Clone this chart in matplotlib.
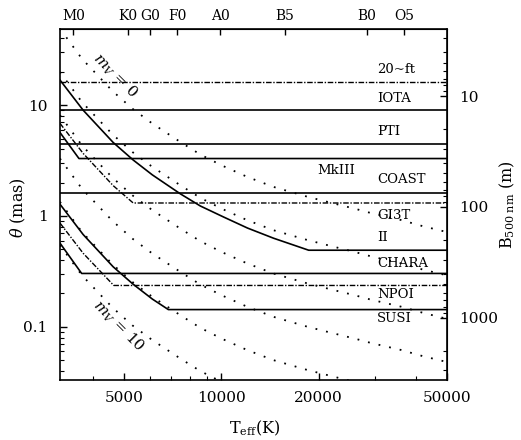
import matplotlib
matplotlib.use('Agg')
import matplotlib.pyplot as plt
from matplotlib.ticker import FixedLocator, NullFormatter, NullLocator, LogLocator

plt.rcParams['font.family'] = ['DejaVu Serif']
plt.rcParams['mathtext.fontset'] = 'dejavuserif'

# ---- data ----
teff = [3160, 3700, 4600, 5300, 6100, 7500, 8600, 10000, 12000, 14500,
        18500, 22000, 26000, 29000, 36000, 42000, 50000]
theta_mv0 = [49.1, 26.2, 13.4, 9.3, 6.85, 4.61, 3.59, 2.87, 2.26, 1.83,
             1.49, 1.31, 1.16, 1.065, 0.92, 0.81, 0.716]
theta_mv2 = [19.96, 10.65, 5.45, 3.78, 2.785, 1.874, 1.46, 1.167, 0.919, 0.744,
             0.606, 0.533, 0.472, 0.433, 0.374, 0.329, 0.291]
theta_mv4 = [8.12, 4.33, 2.215, 1.537, 1.132, 0.762, 0.593, 0.474, 0.374, 0.3025,
             0.246, 0.2165, 0.192, 0.176, 0.152, 0.134, 0.118]
theta_mv6 = [3.30, 1.761, 0.901, 0.625, 0.460, 0.310, 0.241, 0.193, 0.152, 0.123,
             0.100, 0.088, 0.078, 0.0716, 0.0618, 0.0544, 0.0481]
theta_mv8 = [1.342, 0.716, 0.366, 0.254, 0.187, 0.126, 0.098, 0.0784, 0.0618, 0.050,
             0.0407, 0.0358, 0.0317, 0.0291, 0.0251, 0.0221, 0.0196]
theta_mv10 = [0.546, 0.291, 0.149, 0.103, 0.0761, 0.0512, 0.0399, 0.0319, 0.0251, 0.0203,
              0.0166, 0.0146, 0.0129, 0.0118, 0.0102, 0.0090, 0.0080]
mag_curves = [theta_mv0, theta_mv2, theta_mv4, theta_mv6, theta_mv8, theta_mv10]

# instruments: resolution limit (mas) and sensitivity-limit curve (Teff, theta)
inst_names = ['20~ft', 'IOTA', 'PTI', 'MkIII', 'COAST', 'GI3T', 'II', 'CHARA', 'NPOI', 'SUSI']
inst_theta = [16.2, 9.0, 4.42, 3.30, 1.62, 1.31, 0.491, 0.303, 0.236, 0.143]
lim_teff = {
    'MkIII': [3160, 3620],
    'GI3T': [3160, 3730, 4620, 5330],
    'II': [3160, 3730, 4620, 5330, 6110, 7460, 8610, 10150, 12050, 14510, 18640],
    'CHARA': [3160, 3690],
    'NPOI': [3160, 3730, 4640],
    'SUSI': [3160, 3730, 4620, 5330, 6110, 6850],
}
lim_theta = {
    'MkIII': [5.68, 3.30],
    'GI3T': [6.87, 3.67, 1.88, 1.31],
    'II': [16.9, 9.01, 4.61, 3.20, 2.35, 1.585, 1.23, 0.98, 0.778, 0.63, 0.491],
    'CHARA': [0.57, 0.303],
    'NPOI': [0.865, 0.461, 0.236],
    'SUSI': [1.28, 0.68, 0.348, 0.242, 0.178, 0.143],
}
dashed_insts = ['20~ft', 'GI3T', 'NPOI']

spec_teff = [3480, 5140, 6020, 7300, 9900, 15700, 28200, 36800]
spec_labels = ['M0', 'K0', 'G0', 'F0', 'A0', 'B5', 'B0', 'O5']

x_ticks = [5000, 10000, 20000, 50000]
y_ticks = [0.1, 1, 10]
b_ticks = [10, 100, 1000]
K_THETA_B = 121.0  # theta(mas) * B(m)

TMIN, TMAX = 3162, 50000
YMIN, YMAX = 0.0331, 48.7

# ---- figure ----
fig = plt.figure(figsize=(5.21, 4.40), dpi=100)
ax = fig.add_axes([60/521, 1-380/440, 387/521, 351/440])
ax.set_xscale('log')
ax.set_yscale('log')
ax.set_xlim(TMIN, TMAX)
ax.set_ylim(YMIN, YMAX)

for th in mag_curves:
    ax.plot(teff, th, color='black', lw=1.3, linestyle=(0, (1, 5)))

for name, lev in zip(inst_names, inst_theta):
    if name in lim_teff:
        xs = list(lim_teff[name]) + [TMAX]
        ys = list(lim_theta[name]) + [lev]
    else:
        xs = [TMIN, TMAX]
        ys = [lev, lev]
    if name in dashed_insts:
        ax.plot(xs, ys, color='black', lw=1.0, linestyle=(0, (4, 1.2, 1, 1.2)))
    else:
        ax.plot(xs, ys, color='black', lw=1.2)

# instrument labels
lab_pos = {
    '20~ft': (0.819, 0.885), 'IOTA': (0.819, 0.802), 'PTI': (0.819, 0.707),
    'MkIII': (0.665, 0.596), 'COAST': (0.819, 0.570), 'GI3T': (0.819, 0.470),
    'II': (0.819, 0.405), 'CHARA': (0.819, 0.333), 'NPOI': (0.819, 0.243),
    'SUSI': (0.819, 0.174),
}
for name in inst_names:
    px, py = lab_pos[name]
    ax.text(px, py, name, transform=ax.transAxes, ha='left', va='center', fontsize=9.5)

ax.text(0.142, 0.866, r'$m_V$ = 0', transform=ax.transAxes, rotation=-45,
        ha='center', va='center', fontsize=11)
ax.text(0.150, 0.155, r'$m_V$ = 10', transform=ax.transAxes, rotation=-45,
        ha='center', va='center', fontsize=11)

# axes ticks
ax.xaxis.set_major_locator(FixedLocator(x_ticks))
ax.set_xticklabels([str(v) for v in x_ticks])
ax.xaxis.set_minor_locator(LogLocator(base=10, subs=range(2, 10), numticks=20))
ax.xaxis.set_minor_formatter(NullFormatter())
ax.yaxis.set_major_locator(FixedLocator(y_ticks))
ax.set_yticklabels(['0.1', '1', '10'])
ax.yaxis.set_minor_locator(LogLocator(base=10, subs=range(2, 10), numticks=20))
ax.yaxis.set_minor_formatter(NullFormatter())
ax.tick_params(which='both', direction='in', top=False, right=False, labelsize=11)
ax.tick_params(axis='y', which='major', length=5, width=1, pad=9)
ax.tick_params(axis='x', which='major', length=5, width=1, pad=8)
ax.tick_params(which='minor', length=3, width=0.8)
for s in ax.spines.values():
    s.set_linewidth(1.2)

secx = ax.secondary_xaxis('top')
secx.set_xticks(spec_teff)
secx.set_xticklabels(spec_labels)
secx.xaxis.set_minor_locator(NullLocator())
secx.tick_params(which='both', direction='in', length=4, width=1, pad=4, labelsize=10)

secy = ax.secondary_yaxis('right', functions=(lambda t: K_THETA_B / t, lambda b: K_THETA_B / b))
secy.set_yticks(b_ticks)
secy.set_yticklabels([str(v) for v in b_ticks])
secy.yaxis.set_minor_locator(LogLocator(base=10, subs=range(2, 10), numticks=20))
secy.yaxis.set_minor_formatter(NullFormatter())
secy.tick_params(which='major', direction='in', length=5, width=1, pad=9, labelsize=11)
secy.tick_params(which='minor', direction='in', length=3, width=0.8)

fig.text(18/521, 1-208/440, r'$\theta$ (mas)', rotation=90, ha='center', va='center', fontsize=11.5)
fig.text(255/521, 1-428/440, r'T$_{\rm eff}$(K)', ha='center', va='center', fontsize=11.5)
fig.text(507/521, 1-205/440, r'B$_{500\ \rm nm}$ (m)', rotation=90, ha='center', va='center', fontsize=11.5)

fig.savefig('out.png', dpi=100, facecolor='white')
